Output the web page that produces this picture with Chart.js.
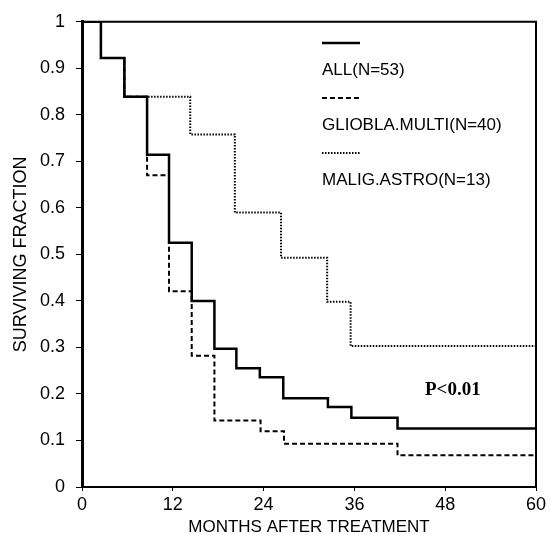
<!DOCTYPE html>
<html>
<head>
<meta charset="utf-8">
<script src="https://cdn.jsdelivr.net/npm/chart.js@4/dist/chart.umd.min.js"></script>
<style>
  html, body { margin: 0; padding: 0; background: #fff; }
  #wrap { width: 559px; height: 535px; }
</style>
</head>
<body>
<div id="wrap"><canvas id="km" width="559" height="535"></canvas></div>
<script>
// survival data (months, surviving fraction)
const allMonths   = [0, 2.5, 5.6, 8.6, 11.5, 14.5, 17.5, 20.4, 23.5, 26.6, 32.5, 35.6, 41.7, 60];
const allSurv     = [1, 0.922, 0.839, 0.714, 0.525, 0.400, 0.297, 0.255, 0.236, 0.191, 0.172, 0.149, 0.126, 0.126];

const glioMonths  = [0, 2.5, 5.6, 8.6, 11.5, 14.5, 17.5, 23.6, 26.7, 41.7, 60];
const glioSurv    = [1, 0.922, 0.839, 0.670, 0.421, 0.282, 0.143, 0.120, 0.093, 0.068, 0.068];

const astroMonths = [0, 2.5, 5.6, 14.3, 20.2, 26.3, 32.4, 35.5, 60];
const astroSurv   = [1, 0.922, 0.839, 0.758, 0.590, 0.493, 0.398, 0.303, 0.303];

const seriesLabels = ['ALL(N=53)', 'GLIOBLA.MULTI(N=40)', 'MALIG.ASTRO(N=13)'];
const xTicks = [0, 12, 24, 36, 48, 60];
const yTicks = [0, 0.1, 0.2, 0.3, 0.4, 0.5, 0.6, 0.7, 0.8, 0.9, 1];
const pText = 'P<0.01';

const xTitle = 'MONTHS AFTER TREATMENT';
const yTitle = 'SURVIVING FRACTION';

function toPoints(xs, ys) {
    return xs.map((x, i) => ({ x: x, y: ys[i] }));
}

const SANS = '"Liberation Sans", Arial, sans-serif';

// frame, legend, titles and p-value
const decorations = {
    id: 'decorations',
    afterDraw(chart) {
        const ctx = chart.ctx;
        const a = chart.chartArea;
        ctx.save();

        // top and right edges of the box
        ctx.strokeStyle = '#000';
        ctx.lineWidth = 2;
        ctx.beginPath();
        ctx.moveTo(a.left, a.top);
        ctx.lineTo(a.right, a.top);
        ctx.lineTo(a.right, a.bottom);
        ctx.stroke();

        // legend: sample line above each label
        chart.data.datasets.forEach((ds, i) => {
            const ly = 43 + i * 55;
            ctx.strokeStyle = ds.borderColor;
            ctx.lineWidth = ds.borderWidth;
            ctx.setLineDash(ds.borderDash || []);
            ctx.beginPath();
            ctx.moveTo(322, ly);
            ctx.lineTo(360, ly);
            ctx.stroke();
            ctx.setLineDash([]);
            ctx.fillStyle = '#000';
            ctx.font = '17px ' + SANS;
            ctx.textAlign = 'left';
            ctx.textBaseline = 'middle';
            ctx.fillText(ds.label, 322, ly + 27);
        });

        // p-value
        ctx.font = 'bold 19px "Liberation Serif", "Times New Roman", serif';
        ctx.textAlign = 'left';
        ctx.textBaseline = 'middle';
        ctx.fillText(pText, 425, 390);

        // axis titles
        ctx.font = '17px ' + SANS;
        ctx.textAlign = 'center';
        ctx.fillText(xTitle, (a.left + a.right) / 2, 527);

        ctx.translate(21, (a.top + a.bottom) / 2);
        ctx.rotate(-Math.PI / 2);
        ctx.font = '18px ' + SANS;
        ctx.fillText(yTitle, 0, 0);

        ctx.restore();
    }
};

new Chart(document.getElementById('km'), {
    type: 'line',
    data: {
        datasets: [
            {
                label: seriesLabels[0],
                data: toPoints(allMonths, allSurv),
                borderColor: '#000',
                borderWidth: 2.5,
                stepped: true
            },
            {
                label: seriesLabels[1],
                data: toPoints(glioMonths, glioSurv),
                borderColor: '#000',
                borderWidth: 2,
                borderDash: [5, 3],
                stepped: true
            },
            {
                label: seriesLabels[2],
                data: toPoints(astroMonths, astroSurv),
                borderColor: '#000',
                borderWidth: 2,
                borderDash: [1.5, 1.5],
                stepped: true
            }
        ]
    },
    options: {
        responsive: false,
        animation: false,
        layout: { padding: { left: 0, right: 23, top: 15, bottom: 0 } },
        elements: { point: { radius: 0 } },
        plugins: {
            legend: { display: false },
            tooltip: { enabled: false }
        },
        scales: {
            x: {
                type: 'linear',
                min: 0,
                max: 60,
                afterBuildTicks: s => { s.ticks = xTicks.map(v => ({ value: v })); },
                afterFit: s => { s.height = 48; },
                border: { color: '#000', width: 2 },
                grid: { drawOnChartArea: false, drawTicks: true, tickLength: 4, color: '#000' },
                ticks: {
                    color: '#000',
                    padding: 3,
                    maxRotation: 0,
                    font: { size: 18, family: SANS }
                }
            },
            y: {
                type: 'linear',
                min: 0,
                max: 1,
                afterBuildTicks: s => { s.ticks = yTicks.map(v => ({ value: v })); },
                afterFit: s => { s.width = 82; },
                border: { color: '#000', width: 3 },
                grid: { drawOnChartArea: false, drawTicks: true, tickLength: 6, color: '#000' },
                ticks: {
                    color: '#000',
                    padding: 11,
                    font: { size: 18, family: SANS },
                    callback: v => (v === 0 || v === 1) ? String(v) : v.toFixed(1)
                }
            }
        }
    },
    plugins: [decorations]
});
</script>
</body>
</html>
